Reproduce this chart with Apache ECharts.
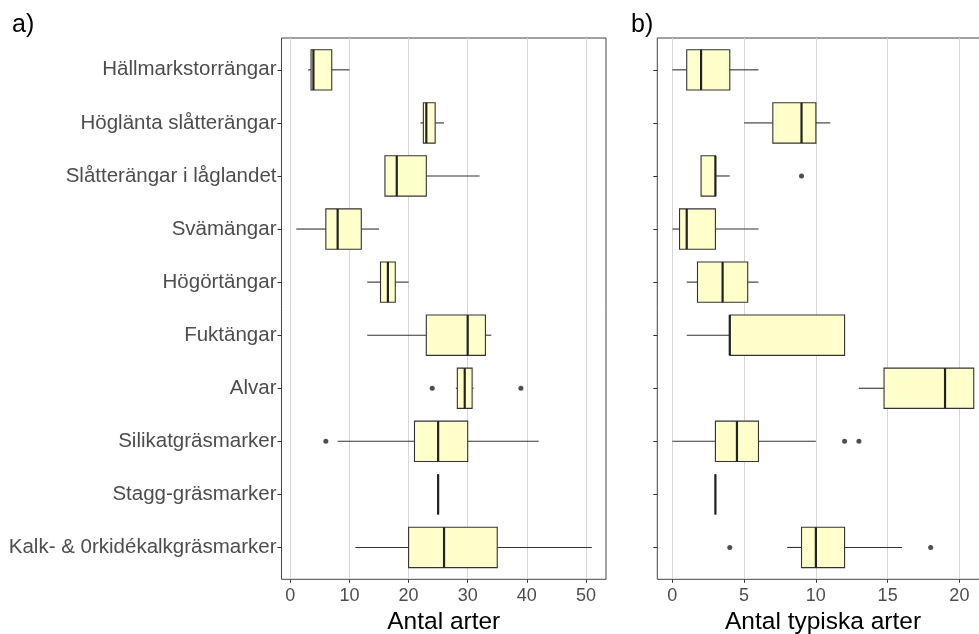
<!DOCTYPE html>
<html>
<head>
<meta charset="utf-8">
<script src="https://cdn.jsdelivr.net/npm/echarts@6/dist/echarts.min.js"></script>
<style>html,body{margin:0;padding:0;background:#fff}#c{width:979px;height:634px}</style>
</head>
<body>
<div id="c"></div>
<script>
const categories = ["Hällmarkstorrängar","Höglänta slåtterängar","Slåtterängar i låglandet","Svämängar","Högörtängar","Fuktängar","Alvar","Silikatgräsmarker","Stagg-gräsmarker","Kalk- & 0rkidékalkgräsmarker"];
// [min, Q1, median, Q3, max] per category
const arterBox = [
  [3, 3.5, 3.9, 7, 10],
  [22, 22.5, 23, 24.5, 26],
  [16, 16, 18, 23, 32],
  [1, 6, 8, 12, 15],
  [13, 15.25, 16.5, 17.75, 20],
  [13, 23, 30, 33, 34],
  [28, 28.25, 29.5, 30.75, 31],
  [8, 21, 25, 30, 42],
  [25, 25, 25, 25, 25],
  [11, 20, 26, 35, 51]
];
// [value, categoryIndex]
const arterOutliers = [[24, 6], [39, 6], [6, 7]];
const typiskaBox = [
  [0, 1, 2, 4, 6],
  [5, 7, 9, 10, 11],
  [2, 2, 3, 3, 4],
  [0, 0.5, 1, 3, 6],
  [1, 1.75, 3.5, 5.25, 6],
  [1, 4, 4, 12, 12],
  [13, 14.75, 19, 21, 21],
  [0, 3, 4.5, 6, 10],
  [3, 3, 3, 3, 3],
  [8, 9, 10, 12, 16]
];
const typiskaOutliers = [[9, 2], [12, 7], [13, 7], [4, 9], [18, 9]];
const arterTicks = [0, 10, 20, 30, 40, 50];
const typiskaTicks = [0, 5, 10, 15, 20];
const catIdx = categories.map((c, i) => i);

const FONT = "'Liberation Sans', Arial, sans-serif";
const chart = echarts.init(document.getElementById('c'), null, {renderer: 'canvas'});

function boxItem(params, api) {
  const y = api.value(0);
  const pLo = api.coord([api.value(1), y]);
  const pQ1 = api.coord([api.value(2), y]);
  const pMed = api.coord([api.value(3), y]);
  const pQ3 = api.coord([api.value(4), y]);
  const pHi = api.coord([api.value(5), y]);
  const h = api.size([0, 1])[1] * 0.76;
  const cy = pMed[1];
  const stroke = '#333333';
  return {
    type: 'group',
    children: [
      {type: 'line', shape: {x1: pLo[0], y1: cy, x2: pQ1[0], y2: cy}, style: {stroke: stroke, lineWidth: 1.1}},
      {type: 'line', shape: {x1: pQ3[0], y1: cy, x2: pHi[0], y2: cy}, style: {stroke: stroke, lineWidth: 1.1}},
      {type: 'rect', shape: {x: pQ1[0], y: cy - h / 2, width: pQ3[0] - pQ1[0], height: h}, style: {fill: '#FFFFCC', stroke: stroke, lineWidth: 1.1}},
      {type: 'line', shape: {x1: pMed[0], y1: cy - h / 2, x2: pMed[0], y2: cy + h / 2}, style: {stroke: '#222', lineWidth: 2.2}}
    ]
  };
}

function xAxisCfg(grid, min, max, ticks, name) {
  return {
    type: 'value', gridIndex: grid, min: min, max: max,
    name: name, nameLocation: 'middle', nameGap: 27,
    nameTextStyle: {color: '#000', fontSize: 24.5, fontFamily: FONT},
    axisLine: {show: false, onZero: false},
    axisTick: {show: true, length: 3.5, lineStyle: {color: '#333'}, customValues: ticks},
    axisLabel: {show: true, color: '#4d4d4d', fontSize: 18, fontFamily: FONT, margin: 8, customValues: ticks},
    splitLine: {show: true, lineStyle: {color: '#d6d6d6', width: 1}}
  };
}
function yAxisCfg(grid, showLabels) {
  return {
    type: 'value', gridIndex: grid, min: -0.6, max: 9.6, inverse: true,
    axisLine: {show: false, onZero: false},
    axisTick: {show: true, length: 4, lineStyle: {color: '#333'}, customValues: catIdx},
    axisLabel: {show: showLabels, color: '#4d4d4d', fontSize: 20.5, fontFamily: FONT, margin: 5,
      customValues: catIdx, formatter: v => categories[Math.round(v)] || ''},
    splitLine: {show: false}
  };
}

chart.setOption({
  animation: false,
  backgroundColor: '#ffffff',
  title: [
    {text: 'a)', left: 7, top: 8, textStyle: {fontSize: 25, fontWeight: 'normal', color: '#000', fontFamily: FONT}},
    {text: 'b)', left: 626, top: 8, textStyle: {fontSize: 25, fontWeight: 'normal', color: '#000', fontFamily: FONT}}
  ],
  grid: [
    {left: 281.5, right: 373, top: 38, bottom: 54.7, show: true, borderColor: '#444', borderWidth: 1, containLabel: false, outerBoundsMode: 'none'},
    {left: 657.3, right: -9.8, top: 38, bottom: 54.7, show: true, borderColor: '#444', borderWidth: 1, containLabel: false, outerBoundsMode: 'none'}
  ],
  xAxis: [
    xAxisCfg(0, -1.5, 53.4, arterTicks, 'Antal arter'),
    xAxisCfg(1, -1.05, 22.05, typiskaTicks, 'Antal typiska arter')
  ],
  yAxis: [yAxisCfg(0, true), yAxisCfg(1, false)],
  series: [
    {type: 'custom', xAxisIndex: 0, yAxisIndex: 0, renderItem: boxItem,
      encode: {x: [1, 2, 3, 4, 5], y: 0},
      data: arterBox.map((b, i) => [i].concat(b))},
    {type: 'scatter', xAxisIndex: 0, yAxisIndex: 0, symbol: 'circle', symbolSize: 5,
      itemStyle: {color: '#222'}, data: arterOutliers},
    {type: 'custom', xAxisIndex: 1, yAxisIndex: 1, renderItem: boxItem,
      encode: {x: [1, 2, 3, 4, 5], y: 0},
      data: typiskaBox.map((b, i) => [i].concat(b))},
    {type: 'scatter', xAxisIndex: 1, yAxisIndex: 1, symbol: 'circle', symbolSize: 5,
      itemStyle: {color: '#222'}, data: typiskaOutliers}
  ]
});
</script>
</body>
</html>
